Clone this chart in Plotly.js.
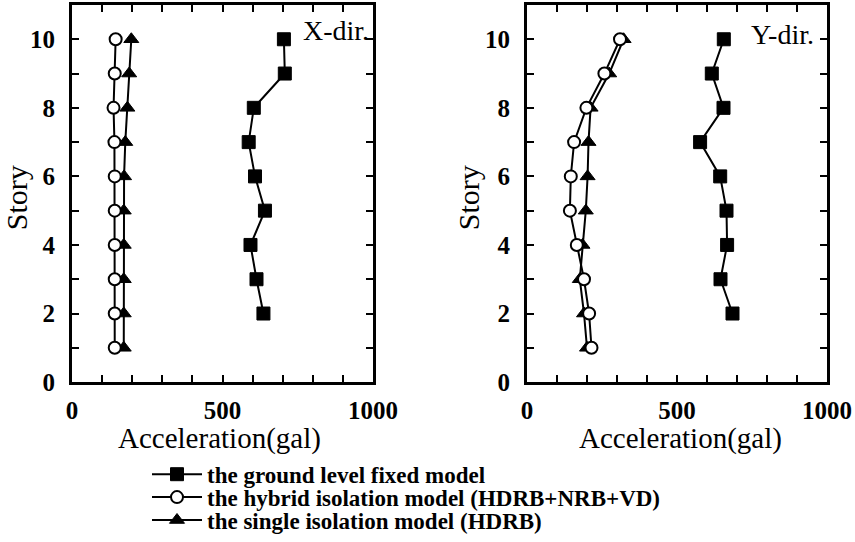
<!DOCTYPE html>
<html>
<head>
<meta charset="utf-8">
<script src="https://cdn.plot.ly/plotly-3.0.1.min.js"></script>
<style>html,body{margin:0;padding:0;background:#fff;}#chart{width:855px;height:542px;}</style>
</head>
<body>
<div id="chart"></div>
<script>
// Stories
const stories = [1, 2, 3, 4, 5, 6, 7, 8, 9, 10];
const fixedStories = [2, 3, 4, 5, 6, 7, 8, 9, 10];

// X-direction accelerations (gal)
const xFixed  = [636, 613, 593, 641, 608, 587, 604, 707, 704];
const xHybrid = [142, 142, 142, 142, 142, 142, 141, 138, 142, 145];
const xSingle = [172, 172, 172, 172, 172, 173, 177, 184, 190, 197];

// Y-direction accelerations (gal)
const yFixed  = [685, 645, 667, 665, 644, 577, 655, 616, 656];
const yHybrid = [215, 207, 190, 166, 143, 146, 157, 198, 258, 310];
const ySingle = [200, 190, 176, 185, 196, 202, 205, 212, 274, 322];

const seriesNames = [
  'the ground level fixed model',
  'the hybrid isolation model (HDRB+NRB+VD)',
  'the single isolation model (HDRB)'
];
const xTickVals = [0, 500, 1000];
const yTickVals = [0, 2, 4, 6, 8, 10];
const panelLabels = ['X-dir.', 'Y-dir.'];
const xTitle = 'Acceleration(gal)';
const yTitle = 'Story';

const FONT = 'Liberation Serif';
const lineStyle = {color: '#000', width: 2};

function fixedTrace(x, xa, ya, show) {
  return {x: x, y: fixedStories, xaxis: xa, yaxis: ya, type: 'scatter', mode: 'lines+markers',
    name: seriesNames[0], legend: 'legend', showlegend: show, line: lineStyle,
    marker: {symbol: 'square', size: 13, color: '#000', line: {color: '#000', width: 1}}};
}
function singleTrace(x, xa, ya, show) {
  return {x: x, y: stories, xaxis: xa, yaxis: ya, type: 'scatter', mode: 'lines+markers',
    name: seriesNames[2], legend: 'legend3', showlegend: show, line: lineStyle,
    marker: {symbol: 'triangle-up', size: 13, color: '#000', line: {color: '#000', width: 1}}};
}
function hybridTrace(x, xa, ya, show) {
  return {x: x, y: stories, xaxis: xa, yaxis: ya, type: 'scatter', mode: 'lines+markers',
    name: seriesNames[1], legend: 'legend2', showlegend: show, line: lineStyle,
    marker: {symbol: 'circle', size: 12, color: '#fff', line: {color: '#000', width: 2}}};
}

const data = [
  fixedTrace(xFixed, 'x', 'y', true),
  singleTrace(xSingle, 'x', 'y', true),
  hybridTrace(xHybrid, 'x', 'y', true),
  fixedTrace(yFixed, 'x2', 'y2', false),
  singleTrace(ySingle, 'x2', 'y2', false),
  hybridTrace(yHybrid, 'x2', 'y2', false)
];

function xAxis(domain, anchor) {
  return {domain: domain, anchor: anchor, range: [0, 1000], tickvals: xTickVals,
    ticks: 'inside', ticklen: 7, tickwidth: 2, tickcolor: '#000',
    minor: {dtick: 100, ticks: 'inside', ticklen: 7, tickwidth: 2, tickcolor: '#000'},
    showline: true, linewidth: 3, linecolor: '#000', mirror: 'allticks',
    showgrid: false, zeroline: false, ticklabelstandoff: 4,
    tickfont: {family: FONT, size: 25, color: '#000', weight: 'bold'}};
}
function yAxis(domain, anchor) {
  return {domain: domain, anchor: anchor, range: [0, 11], tickvals: yTickVals,
    ticks: 'inside', ticklen: 7, tickwidth: 2, tickcolor: '#000',
    minor: {dtick: 1, ticks: 'inside', ticklen: 7, tickwidth: 2, tickcolor: '#000'},
    showline: true, linewidth: 3, linecolor: '#000', mirror: 'allticks',
    showgrid: false, zeroline: false, ticklabelstandoff: 9,
    tickfont: {family: FONT, size: 25, color: '#000', weight: 'bold'}};
}

const yDom = [1 - 383.5 / 542, 1 - 5 / 542];
const legendBase = {xanchor: 'left', yanchor: 'middle', bgcolor: 'rgba(0,0,0,0)', borderwidth: 0,
  itemwidth: 50, font: {family: FONT, size: 23, color: '#000', weight: 'bold'}};

function titleAnn(xref, x, y, text, angle, size) {
  return {xref: xref, yref: 'paper', x: x, y: y, text: text, showarrow: false, textangle: angle,
    xanchor: 'center', yanchor: 'middle', font: {family: FONT, size: size, color: '#000'}};
}

const layout = {
  width: 855, height: 542,
  margin: {l: 0, r: 0, t: 0, b: 0},
  font: {family: FONT, color: '#000'},
  paper_bgcolor: '#fff', plot_bgcolor: '#fff',
  xaxis: xAxis([72 / 855, 373 / 855], 'y'),
  yaxis: yAxis(yDom, 'x'),
  xaxis2: xAxis([527 / 855, 827 / 855], 'y2'),
  yaxis2: yAxis(yDom, 'x2'),
  legend: Object.assign({}, legendBase, {x: 147 / 855, y: 1 - 476 / 542}),
  legend2: Object.assign({}, legendBase, {x: 147 / 855, y: 1 - 499 / 542}),
  legend3: Object.assign({}, legendBase, {x: 147 / 855, y: 1 - 522 / 542}),
  annotations: [
    {xref: 'x', yref: 'y', x: 876, y: 10.25, text: panelLabels[0], showarrow: false,
     xanchor: 'center', yanchor: 'middle', font: {family: FONT, size: 28, color: '#000'}},
    {xref: 'x2', yref: 'y2', x: 850, y: 10.15, text: panelLabels[1], showarrow: false,
     xanchor: 'center', yanchor: 'middle', font: {family: FONT, size: 28, color: '#000'}},
    titleAnn('x domain', 0.49, 1 - 440 / 542, xTitle, 0, 29),
    titleAnn('x2 domain', 0.51, 1 - 440 / 542, xTitle, 0, 29),
    titleAnn('paper', 16 / 855, 1 - 199 / 542, yTitle, -90, 30),
    titleAnn('paper', 468 / 855, 1 - 199 / 542, yTitle, -90, 30)
  ],
  showlegend: true
};

Plotly.newPlot('chart', data, layout, {displayModeBar: false, staticPlot: true});
</script>
</body>
</html>
